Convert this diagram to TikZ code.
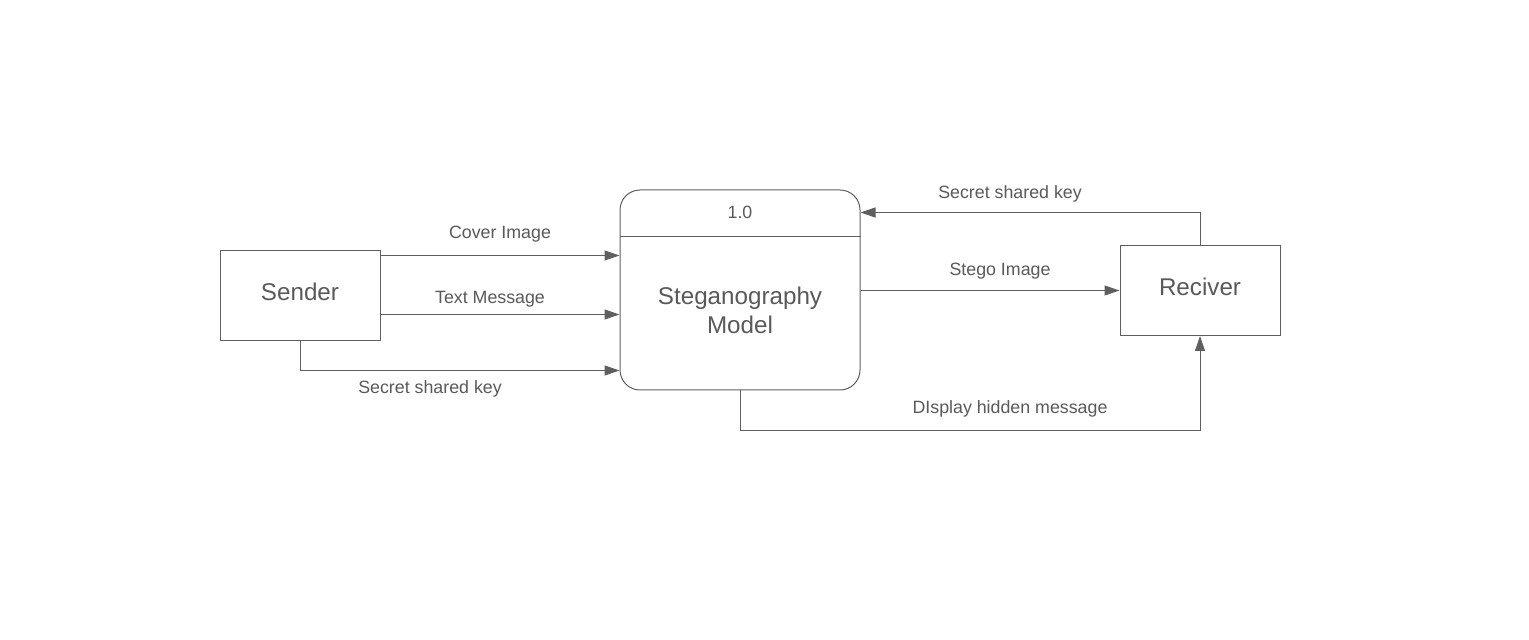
\documentclass[tikz,border=0pt]{standalone}
\usepackage{fontspec}
\setmainfont{Liberation Sans}
\usetikzlibrary{arrows.meta,positioning}
\definecolor{linegray}{HTML}{5F5F5F}
\definecolor{txtgray}{HTML}{595959}

\begin{document}
\begin{tikzpicture}[x=0.5pt,y=-0.5pt,line width=0.5pt,
    >={Triangle[length=7.5pt,width=5pt]},
    entity/.style={draw=linegray,minimum width=80pt,minimum height=45pt,
      text height=9pt,text depth=4pt,
      text=txtgray,font=\fontsize{12.1}{14}\selectfont},
    process/.style={draw=linegray,rounded corners=10pt,minimum width=120pt,
      minimum height=100pt},
    flow/.style={->,draw=linegray},
    lbl/.style={text=txtgray,font=\fontsize{8.9}{10.5}\selectfont,inner sep=0pt}]
  \useasboundingbox (0,0) rectangle (1529,640);
  % entities and process
  \node[entity] (snd) at (300,295.5) {Sender};
  \node[entity] (rcv) at (1200,290.5) {Reciver};
  \node[process] (proc) at (740,290) {};
  \draw[linegray] (proc.west |- 0,236.5) -- (proc.east |- 0,236.5);
  \node[lbl] (pid) at (740,212) {1.0};
  \node[text=txtgray,align=center,font=\fontsize{12.1}{14.5}\selectfont] (pname) at (740,310)
    {Steganography\\Model};
  % flows from sender
  \draw[flow] (snd.east |- 0,255.5) -- (proc.west |- 0,255.5);
  \node[lbl] (l1) at (500,234) {Cover Image};
  \draw[flow] (snd.east |- 0,314.5) -- (proc.west |- 0,314.5);
  \node[lbl] (l2) at (490,299) {Text Message};
  \draw[flow] (snd.south) |- (proc.west |- 0,370.5);
  \node[lbl] (l3) at (430,389) {Secret shared key};
  % flows to/from receiver
  \draw[flow] (proc.east |- 0,290.5) -- (rcv.west);
  \node[lbl] (l4) at (1000,271) {Stego Image};
  \draw[flow] (rcv.north) |- (proc.east |- 0,212.5);
  \node[lbl] (l5) at (1010,194) {Secret shared key};
  \draw[flow] (proc.south) |- (1200,430.5) -- (rcv.south);
  \node[lbl] (l6) at (1010,409) {DIsplay hidden message};
\end{tikzpicture}
\end{document}
